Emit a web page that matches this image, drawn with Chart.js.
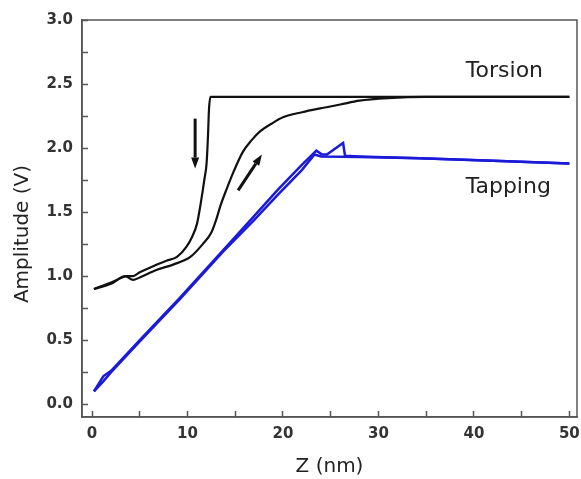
<!DOCTYPE html>
<html>
<head>
<meta charset="utf-8">
<script src="https://cdn.jsdelivr.net/npm/chart.js@4"></script>
<style>
    html, body { margin: 0; padding: 0; background: #fff; }
    #ControlAmplitudeZ { display: block; }
</style>
</head>
<body>
<canvas id="ControlAmplitudeZ" width="581" height="479"></canvas>
<script>
// TORSION - approach (right to left, arrow down)
var TorsionApproachZ = [50, 40, 30, 20, 12.4, 12.25, 12.15, 12.0, 11.8, 11.6, 11.3, 11.0, 10.5, 9.9, 8.9, 7.8, 6.8, 5.0, 4.3, 3.7, 2.0, 0.2];
var TorsionApproachA = [2.4, 2.4, 2.4, 2.4, 2.4, 2.3, 2.1, 1.88, 1.77, 1.67, 1.53, 1.41, 1.31, 1.23, 1.15, 1.12, 1.09, 1.03, 1.0, 1.0, 0.95, 0.9];

// TORSION - retract (left to right, arrow up)
var TorsionRetractZ = [0.2, 2.0, 3.5, 4.3, 5.0, 6.8, 8.5, 10.3, 11.6, 12.5, 13.0, 13.5, 14.1, 14.8, 15.8, 16.7, 17.6, 18.8, 20.0, 22.0, 23.9, 26.0, 28.0, 31.0, 35.0, 50];
var TorsionRetractA = [0.9, 0.94, 1.0, 0.97, 0.99, 1.05, 1.09, 1.15, 1.25, 1.34, 1.44, 1.56, 1.68, 1.81, 1.97, 2.06, 2.13, 2.19, 2.24, 2.28, 2.31, 2.34, 2.37, 2.39, 2.4, 2.4];

// TAPPING - approach
var TappingApproachZ = [50, 42, 34.3, 28.0, 26.5, 26.3, 24.6, 24.1, 23.5, 22.0, 19.4, 17.0, 13.7, 9.2, 5.0, 2.0, 1.2, 0.2];
var TappingApproachA = [1.88, 1.90, 1.92, 1.935, 1.94, 2.04, 1.95, 1.95, 1.98, 1.87, 1.67, 1.47, 1.20, 0.83, 0.50, 0.26, 0.22, 0.1];

// TAPPING - retract
var TappingRetractZ = [0.2, 1.2, 2.0, 5.0, 9.2, 13.7, 17.0, 19.4, 22.0, 23.3, 24.0, 28.0, 34.3, 42, 50];
var TappingRetractA = [0.1, 0.18, 0.25, 0.49, 0.82, 1.19, 1.44, 1.63, 1.83, 1.95, 1.935, 1.93, 1.92, 1.90, 1.88];

// ticks
var ListTicksX = [0, 5, 10, 15, 20, 25, 30, 35, 40, 45, 50];
var ListTickLabelsX = ['0', '', '10', '', '20', '', '30', '', '40', '', '50'];
var ListTicksY = [0, 0.25, 0.5, 0.75, 1.0, 1.25, 1.5, 1.75, 2.0, 2.25, 2.5, 2.75, 3.0];
var ListTickLabelsY = ['0.0', '', '0.5', '', '1.0', '', '1.5', '', '2.0', '', '2.5', '', '3.0'];

// textos
var ListNombres = ['Torsion', 'Tapping'];
var TituloX = 'Z (nm)';
var TituloY = 'Amplitude (V)';

var amplitudeChart = {

    toPoints: function (listZ, listA) {
        var points = [];
        for (var i = 0; i < listZ.length; i++) {
            points[i] = { x: listZ[i], y: listA[i] };
        }
        return points;
    },

    makeDataset: function (listZ, listA, color, width, smooth) {
        return {
            data: amplitudeChart.toPoints(listZ, listA),
            showLine: true,
            borderColor: color,
            backgroundColor: color,
            borderWidth: width,
            pointRadius: 0,
            tension: smooth ? 0.4 : 0,
            cubicInterpolationMode: smooth ? 'monotone' : 'default',
            fill: false
        };
    },

    // marco, flechas y etiquetas
    extras: {
        id: 'amplitudeExtras',
        afterDatasetsDraw: function (chart) {
            var ctx = chart.ctx;
            var xs = chart.scales.x;
            var ys = chart.scales.y;
            var area = chart.chartArea;

            ctx.save();
            ctx.strokeStyle = '#555';
            ctx.lineWidth = 1.5;
            ctx.strokeRect(area.left, area.top, area.right - area.left, area.bottom - area.top);

            var flechas = [
                { from: [10.8, 2.23], to: [10.8, 1.84] },
                { from: [15.3, 1.67], to: [17.8, 1.95] }
            ];
            ctx.strokeStyle = '#111';
            ctx.fillStyle = '#111';
            for (var i = 0; i < flechas.length; i++) {
                var x1 = xs.getPixelForValue(flechas[i].from[0]);
                var y1 = ys.getPixelForValue(flechas[i].from[1]);
                var x2 = xs.getPixelForValue(flechas[i].to[0]);
                var y2 = ys.getPixelForValue(flechas[i].to[1]);
                var ang = Math.atan2(y2 - y1, x2 - x1);
                var head = 11;
                ctx.lineWidth = 3;
                ctx.beginPath();
                ctx.moveTo(x1, y1);
                ctx.lineTo(x2 - head * Math.cos(ang), y2 - head * Math.sin(ang));
                ctx.stroke();
                ctx.beginPath();
                ctx.moveTo(x2, y2);
                ctx.lineTo(x2 - head * Math.cos(ang) + 4 * Math.sin(ang), y2 - head * Math.sin(ang) - 4 * Math.cos(ang));
                ctx.lineTo(x2 - head * Math.cos(ang) - 4 * Math.sin(ang), y2 - head * Math.sin(ang) + 4 * Math.cos(ang));
                ctx.closePath();
                ctx.fill();
            }

            ctx.fillStyle = '#222';
            ctx.font = '22px "DejaVu Sans"';
            ctx.textAlign = 'center';
            ctx.textBaseline = 'middle';
            ctx.fillText(ListNombres[0], xs.getPixelForValue(43.2), ys.getPixelForValue(2.6));
            ctx.fillText(ListNombres[1], xs.getPixelForValue(43.6), ys.getPixelForValue(1.69));

            ctx.font = '20px "DejaVu Sans"';
            ctx.translate(23, 234);
            ctx.rotate(-Math.PI / 2);
            ctx.fillText(TituloY, 0, 0);
            ctx.restore();
        }
    },

    LoadChart: function () {
        var ctxL = document.getElementById('ControlAmplitudeZ').getContext('2d');
        var myChart = new Chart(ctxL, {
            type: 'scatter',
            data: {
                datasets: [
                    amplitudeChart.makeDataset(TappingApproachZ, TappingApproachA, '#1a1ad8', 2.5, false),
                    amplitudeChart.makeDataset(TappingRetractZ, TappingRetractA, '#1a1ad8', 2.5, false),
                    amplitudeChart.makeDataset(TorsionApproachZ, TorsionApproachA, '#111', 2.2, true),
                    amplitudeChart.makeDataset(TorsionRetractZ, TorsionRetractA, '#111', 2.2, true)
                ]
            },
            options: {
                responsive: false,
                animation: false,
                layout: { padding: { top: 20, right: 4, left: 0, bottom: 0 } },
                plugins: {
                    legend: { display: false },
                    tooltip: { enabled: false }
                },
                scales: {
                    x: {
                        type: 'linear',
                        min: -1.05,
                        max: 50.8,
                        afterFit: function (scale) {
                            scale.height = 62;
                            scale.paddingLeft = 0;
                            scale.paddingRight = 0;
                        },
                        afterBuildTicks: function (scale) {
                            scale.ticks = ListTicksX.map(function (v) { return { value: v }; });
                        },
                        grid: { drawOnChartArea: false, tickLength: -6, tickColor: '#555', tickWidth: 1.5 },
                        border: { color: '#555', width: 1.5 },
                        ticks: {
                            padding: 14,
                            maxRotation: 0,
                            autoSkip: false,
                            color: '#333',
                            font: { family: 'DejaVu Sans', size: 15, weight: 'bold' },
                            callback: function (value, index) { return ListTickLabelsX[index]; }
                        },
                        title: {
                            display: true,
                            text: TituloX,
                            color: '#222',
                            padding: { top: 0, bottom: 0 },
                            font: { family: 'DejaVu Sans', size: 20 }
                        }
                    },
                    y: {
                        type: 'linear',
                        min: -0.1,
                        max: 3.0,
                        afterFit: function (scale) {
                            scale.width = 82;
                            scale.paddingTop = 0;
                            scale.paddingBottom = 0;
                        },
                        afterBuildTicks: function (scale) {
                            scale.ticks = ListTicksY.map(function (v) { return { value: v }; });
                        },
                        grid: { drawOnChartArea: false, tickLength: -6, tickColor: '#555', tickWidth: 1.5 },
                        border: { color: '#555', width: 1.5 },
                        ticks: {
                            padding: 15,
                            autoSkip: false,
                            color: '#333',
                            font: { family: 'DejaVu Sans', size: 15, weight: 'bold' },
                            callback: function (value, index) { return ListTickLabelsY[index]; }
                        }
                    }
                }
            },
            plugins: [amplitudeChart.extras]
        });
    }
};

amplitudeChart.LoadChart();
</script>
</body>
</html>
